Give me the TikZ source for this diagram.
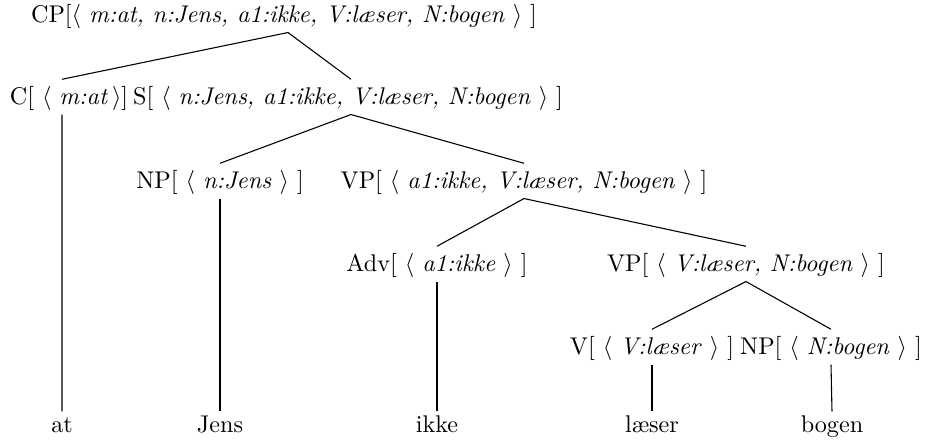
\documentclass[tikz,border=0pt]{standalone}
\begin{document}
\begin{tikzpicture}[x=0.414pt,y=-0.414pt,
  cat/.style={anchor=base, inner xsep=0pt, inner ysep=1.25pt, text height=9.2pt, text depth=2.5pt},
  leaf/.style={anchor=base, inner xsep=0pt, inner ysep=1.25pt, text height=7.5pt, text depth=2.5pt},
  branch/.style={line width=0.45pt}]
\useasboundingbox (0,0) rectangle (928,441);
% phrase nodes
\node[cat] (cp)  at (284,23)  {CP[$\langle$ \textit{m:at, n:Jens, a1:ikke, V:læser, N:bogen} $\rangle$ ]};
\node[cat] (c)   at (69,105)  {C[ $\langle$ \textit{m:at}\,$\rangle$]};
\node[cat] (s)   at (348,105) {S[ $\langle$ \textit{n:Jens, a1:ikke, V:læser, N:bogen} $\rangle$ ]};
\node[cat] (np)  at (220,189) {NP[ $\langle$ \textit{n:Jens} $\rangle$ ]};
\node[cat] (vp)  at (524,189) {VP[ $\langle$ \textit{a1:ikke, V:læser, N:bogen} $\rangle$ ]};
\node[cat] (adv) at (437,272) {Adv[ $\langle$ \textit{a1:ikke} $\rangle$ ]};
\node[cat] (vp2) at (746,272) {VP[ $\langle$ \textit{V:læser, N:bogen} $\rangle$ ]};
\node[cat] (v)   at (652,355) {V[ $\langle$ \textit{V:læser} $\rangle$ ]};
\node[cat] (np2) at (831,355) {NP[ $\langle$ \textit{N:bogen} $\rangle$ ]};
% words
\node[leaf] (w1) at (62,433)  {at};
\node[leaf] (w2) at (220,433) {Jens};
\node[leaf] (w3) at (437,433) {ikke};
\node[leaf] (w4) at (652,433) {læser};
\node[leaf] (w5) at (832,433) {bogen};
% branches
\draw[branch] ([xshift=1.66pt]cp.south) -- ([xshift=-2.9pt]c.north);
\draw[branch] ([xshift=1.66pt]cp.south) -- ([xshift=1.24pt]s.north);
\draw[branch] ([xshift=-2.9pt]c.south) -- (w1.north);
\draw[branch] ([xshift=1.24pt]s.south) -- (np.north);
\draw[branch] ([xshift=1.24pt]s.south) -- (vp.north);
\draw[branch] (np.south) -- (w2.north);
\draw[branch] (vp.south) -- (adv.north);
\draw[branch] (vp.south) -- (vp2.north);
\draw[branch] (adv.south) -- (w3.north);
\draw[branch] (vp2.south) -- (v.north);
\draw[branch] (vp2.south) -- (np2.north);
\draw[branch] (v.south) -- (w4.north);
\draw[branch] (np2.south) -- (w5.north);
\end{tikzpicture}
\end{document}
